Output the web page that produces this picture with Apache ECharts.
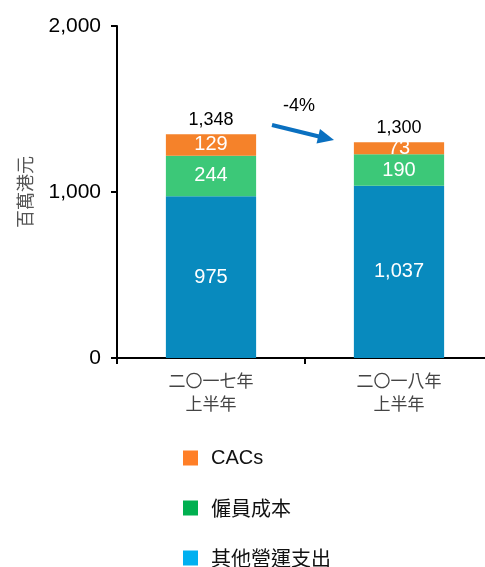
<!DOCTYPE html>
<html>
<head>
<meta charset="utf-8">
<script src="https://cdn.jsdelivr.net/npm/echarts@6/dist/echarts.min.js"></script>
<style>
  html, body { margin: 0; padding: 0; background: #fff; }
  #chart { width: 485px; height: 567px; }
</style>
</head>
<body>
<div id="chart"></div>
<script>
// 數據
const categories = ['二〇一七年\n上半年', '二〇一八年\n上半年'];
const otherOpex = [975, 1037];
const staffCost = [244, 190];
const cacs = [129, 73];
const totals = [1348, 1300];
const yTicks = [0, 1000, 2000];

const fmt = v => Number(v).toLocaleString('en-US');
const font = 'Liberation Sans, Arial, sans-serif';
const cjk = '"Noto Sans CJK TC", "Noto Sans CJK SC", sans-serif';

const chart = echarts.init(document.getElementById('chart'));

const segLabel = {
  show: true,
  position: 'inside',
  color: '#fff',
  fontSize: 20,
  fontFamily: font,
  formatter: p => fmt(p.value)
};

chart.setOption({
  animation: false,
  grid: { left: 117, right: -8, top: 26, bottom: 209, outerBoundsMode: 'none' },
  legend: {
    orient: 'vertical',
    left: 178,
    top: 443,
    height: 124,
    itemWidth: 15,
    itemHeight: 15,
    itemGap: 30,
    textStyle: { fontSize: 20, color: '#111', fontFamily: cjk, padding: [0, 0, 0, 8] },
    data: [
      { name: 'CACs', icon: 'rect', itemStyle: { color: '#FF7F27' }, textStyle: { fontFamily: font } },
      { name: '僱員成本', icon: 'rect', itemStyle: { color: '#00B050' } },
      { name: '其他營運支出', icon: 'rect', itemStyle: { color: '#00B0F0' } }
    ]
  },
  xAxis: {
    type: 'category',
    data: categories,
    axisLine: { lineStyle: { color: '#000', width: 2 } },
    axisTick: { show: true, length: 6, lineStyle: { color: '#000', width: 2 } },
    axisLabel: { color: '#444', fontSize: 17, fontFamily: cjk, lineHeight: 23, margin: 11 }
  },
  yAxis: {
    type: 'value',
    min: yTicks[0],
    max: yTicks[yTicks.length - 1],
    interval: 1000,
    name: '百萬港元',
    nameLocation: 'middle',
    nameRotate: 90,
    nameGap: 83,
    nameTextStyle: { color: '#555', fontSize: 18, fontFamily: cjk },
    splitLine: { show: false },
    axisLine: { show: true, lineStyle: { color: '#000', width: 2 } },
    axisTick: { show: true, length: 6, lineStyle: { color: '#000', width: 2 } },
    axisLabel: { color: '#000', fontSize: 21, fontFamily: font, margin: 16, formatter: v => fmt(v) }
  },
  series: [
    {
      name: '其他營運支出', type: 'bar', stack: 'cost', barWidth: '48%',
      itemStyle: { color: '#088ABE' }, label: segLabel, data: otherOpex
    },
    {
      name: '僱員成本', type: 'bar', stack: 'cost',
      itemStyle: { color: '#3CC878' }, label: segLabel, data: staffCost
    },
    {
      name: 'CACs', type: 'bar', stack: 'cost',
      itemStyle: { color: '#F5822A' }, label: segLabel, data: cacs
    },
    {
      name: '總計', type: 'bar', stack: 'cost',
      itemStyle: { color: 'transparent' },
      label: {
        show: true, position: 'top', distance: 5, color: '#000', fontSize: 18, fontFamily: font,
        formatter: p => fmt(totals[p.dataIndex])
      },
      data: totals.map(() => 0)
    }
  ],
  graphic: [
    {
      type: 'text', left: 283, top: 97,
      style: { text: '-4%', fontSize: 18, fontFamily: font, fill: '#000' }
    },
    {
      type: 'line',
      shape: { x1: 272, y1: 125, x2: 319, y2: 136.5 },
      style: { stroke: '#0A70C0', lineWidth: 4 }
    },
    {
      type: 'polygon',
      shape: { points: [[334, 140], [316.5, 143.5], [320, 129]] },
      style: { fill: '#0A70C0' }
    }
  ]
});
</script>
</body>
</html>
